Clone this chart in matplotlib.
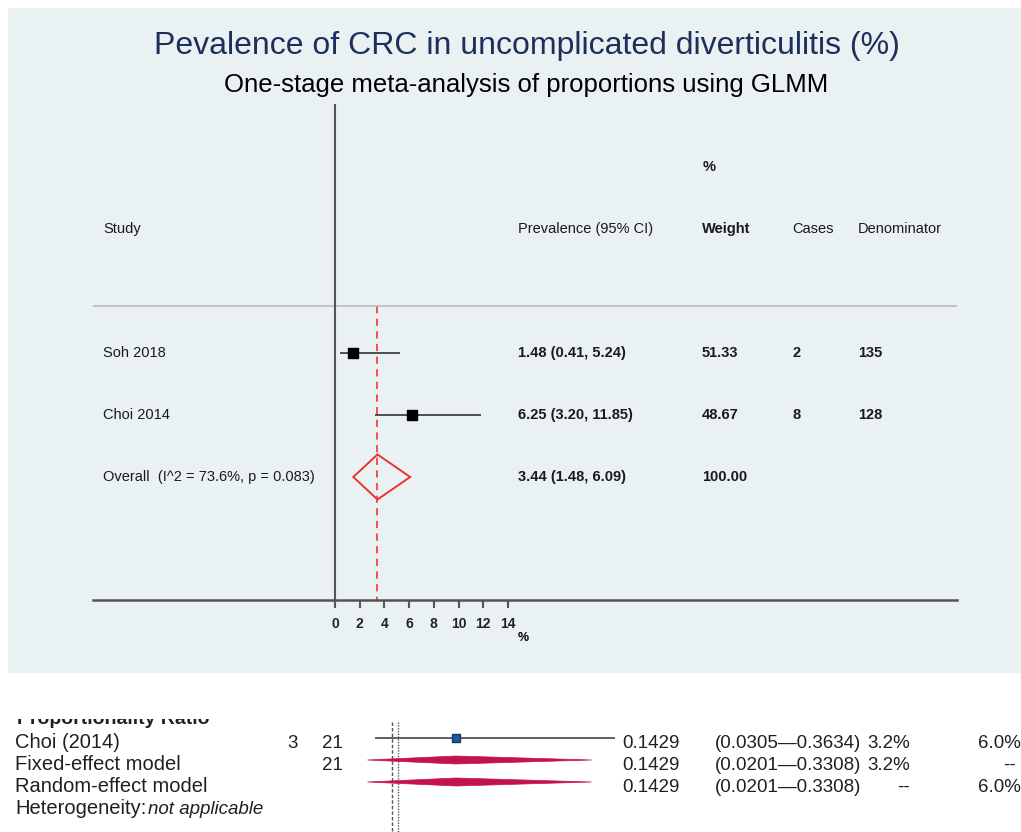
import matplotlib
matplotlib.use('Agg')
import matplotlib.pyplot as plt
from matplotlib.patches import Rectangle, Polygon
from matplotlib import font_manager
from matplotlib.transforms import blended_transform_factory

# ---------------- data (top panel) ----------------
title = 'Pevalence of CRC in uncomplicated diverticulitis (%)'
subtitle = 'One-stage meta-analysis of proportions using GLMM'
studies = ['Soh 2018', 'Choi 2014']
prev = [1.48, 6.25]
prev_lo = [0.41, 3.20]
prev_hi = [5.24, 11.85]
prev_text = ['1.48 (0.41, 5.24)', '6.25 (3.20, 11.85)']
weights = ['51.33', '48.67']
cases = ['2', '8']
denoms = ['135', '128']
overall_label = 'Overall  (I^2 = 73.6%, p = 0.083)'
overall = 3.44
overall_lo = 1.48
overall_hi = 6.09
overall_text = '3.44 (1.48, 6.09)'
overall_weight = '100.00'
xticks = [0, 2, 4, 6, 8, 10, 12, 14]

# ---------------- data (bottom panel) ----------------
b_header = 'Proportionality Ratio'
b_labels = ['Choi (2014)', 'Fixed-effect model', 'Random-effect model']
b_events = ['3', '', '']
b_total = ['21', '21', '']
b_est = [0.1429, 0.1429, 0.1429]
b_lo = [0.0305, 0.0201, 0.0201]
b_hi = [0.3634, 0.3308, 0.3308]
b_est_text = ['0.1429', '0.1429', '0.1429']
b_ci_text = ['(0.0305\u20140.3634)', '(0.0201\u20140.3308)', '(0.0201\u20140.3308)']
b_w_fixed = ['3.2%', '3.2%', '--']
b_w_random = ['6.0%', '--', '6.0%']
b_ref_lines = [0.0537, 0.0628]

W, H = 1021, 832
fig = plt.figure(figsize=(W / 100, H / 100), dpi=100)

avail = {f.name for f in font_manager.fontManager.ttflist}
sans = 'Liberation Sans' if 'Liberation Sans' in avail else 'DejaVu Sans'
narrow = 'Liberation Sans Narrow' if 'Liberation Sans Narrow' in avail else sans

# background panel
fig.patches.append(Rectangle((8 / W, 1 - 673 / H), (W - 8) / W, (673 - 8) / H,
                             transform=fig.transFigure, facecolor='#E9F1F3',
                             edgecolor='none', zorder=-5))

fig.text(527 / W, 1 - 46 / H, title, ha='center', va='center', fontsize=23,
         color='#1F2F5C', family=sans)
fig.text(526 / W, 1 - 85 / H, subtitle, ha='center', va='center', fontsize=18.5,
         color='black', family=sans)

# ---------------- top forest plot ----------------
px_per_unit = 12.35
row_px = 62.0
ax = fig.add_axes([93 / W, 1 - 600 / H, (957 - 93) / W, (600 - 105) / H])
ax.set_facecolor('none')
ax.set_xlim((93 - 335) / px_per_unit, (957 - 335) / px_per_unit)
ax.set_ylim(1 + (600 - 353) / row_px, 1 + (105 - 353) / row_px)
for s in ['top', 'right']:
    ax.spines[s].set_visible(False)
ax.spines['left'].set_position(('data', 0))
ax.spines['left'].set_color('#555555')
ax.spines['left'].set_linewidth(1.5)
ax.spines['bottom'].set_color('#555555')
ax.spines['bottom'].set_linewidth(1.8)
ax.set_yticks([])
ax.set_xticks(xticks)
ax.set_xticklabels([str(t) for t in xticks], fontsize=10, fontweight='bold',
                   family=sans, color='#222222')
ax.tick_params(axis='x', length=6, width=1.5, color='#555555', pad=6)

rows = [1, 2]
orow = 3
sep_row = 1 + (306 - 353) / row_px
ax.axhline(sep_row, color='#BBBBBB', lw=1.2)
ax.plot([overall, overall], [sep_row, ax.get_ylim()[0]], color='#F04545',
        lw=1.3, dashes=(4, 3), zorder=1)
ax.hlines(rows, prev_lo, prev_hi, color='#333333', lw=1.2, zorder=2)
ax.scatter(prev, rows, marker='s', s=55, color='black', zorder=3)
dh = 22.5 / row_px
ax.add_patch(Polygon([(overall_lo, orow), (overall, orow - dh), (overall_hi, orow),
                      (overall, orow + dh)], closed=True, fill=False,
                     edgecolor='#F03030', lw=1.4, zorder=3))
ax.text((518 - 335) / px_per_unit, 1 + (638 - 353) / row_px, '%', fontsize=9,
        fontweight='bold', family=sans, ha='left', va='center', clip_on=False)

tr = blended_transform_factory(fig.transFigure, ax.transData)
kw = dict(fontsize=10.5, family=sans, color='#1A1A1A', va='center', transform=tr)
cols = {'study': 103, 'prev': 518, 'w': 702, 'cases': 792, 'den': 858}
ax.text(703 / W, -2, '%', fontweight='bold', **kw)
ax.text(cols['study'] / W, -1, 'Study', **kw)
ax.text(cols['prev'] / W, -1, 'Prevalence (95% CI)', **kw)
ax.text(cols['w'] / W, -1, 'Weight', fontweight='bold', **kw)
ax.text(cols['cases'] / W, -1, 'Cases', **kw)
ax.text(cols['den'] / W, -1, 'Denominator', **kw)
for r, st, pt, w, c, d in zip(rows, studies, prev_text, weights, cases, denoms):
    ax.text(cols['study'] / W, r, st, **kw)
    ax.text(cols['prev'] / W, r, pt, fontweight='bold', **kw)
    ax.text(cols['w'] / W, r, w, fontweight='bold', **kw)
    ax.text(cols['cases'] / W, r, c, fontweight='bold', **kw)
    ax.text(cols['den'] / W, r, d, fontweight='bold', **kw)
ax.text(cols['study'] / W, orow, overall_label, **kw)
ax.text(cols['prev'] / W, orow, overall_text, fontweight='bold', **kw)
ax.text(cols['w'] / W, orow, overall_weight, fontweight='bold', **kw)

# ---------------- bottom forest plot ----------------
bpx = 721.0
brow = 22.0
bx = fig.add_axes([0, 0, 1, (832 - 700) / H])
bx.set_facecolor('none')
bx.set_axis_off()
bx.set_xlim(-353 / bpx, (W - 353) / bpx)
bx.set_ylim(1 + (832 - 738) / brow, 1 + (700 - 738) / brow)

btr = blended_transform_factory(fig.transFigure, bx.transData)
base = 9.5 / brow  # baseline sits below the row centre
bkw = dict(fontsize=13.5, family=narrow, color='#231F20', va='baseline', transform=btr)
lkw = dict(bkw, fontsize=14.5)
# header row, mostly cut off by the crop of the source image
bx.text(17 / W, 1 + (724 - 738) / brow, b_header, fontweight='bold', va='baseline',
        fontsize=14, family=narrow, color='#231F20', transform=btr)
# the crop edge of the source picture
fig.patches.append(Rectangle((0, 1 - 718.5 / H), 1, (718.5 - 674) / H,
                             transform=fig.transFigure, facecolor='white',
                             edgecolor='none', zorder=10))
brows = [1, 2, 3]
for r, lab, ev, tot, et, ct, wf, wr in zip(brows, b_labels, b_events, b_total,
                                          b_est_text, b_ci_text, b_w_fixed, b_w_random):
    bx.text(15 / W, r + base, lab, ha='left', **lkw)
    bx.text(298 / W, r + base, ev, ha='right', **bkw)
    bx.text(343 / W, r + base, tot, ha='right', **bkw)
    bx.text(622 / W, r + base, et, ha='left', **bkw)
    bx.text(715 / W, r + base, ct, ha='left', **bkw)
    bx.text(910 / W, r + base, wf, ha='right', **bkw)
    bx.text(1003 / W if wr == '--' else 978 / W, r + base, wr, ha='left', **bkw)
het = bx.text(15 / W, 4 + base, 'Heterogeneity:', ha='left', **lkw)
renderer = fig.canvas.get_renderer()
ext = het.get_window_extent(renderer)
bx.text((ext.x1 + 2) / W, 4 + base, 'not applicable', ha='left', style='italic',
        **dict(lkw, fontsize=13.5))

ytop = 1 + (722 - 738) / brow
ybot = bx.get_ylim()[0]
bx.vlines(b_ref_lines[0], ytop, ybot, color='#555555', lw=1.0, linestyles=(0, (2.5, 1.5)))
bx.vlines(b_ref_lines[1], ytop, ybot, color='#555555', lw=1.0, linestyles=(0, (1, 1)))

bx.hlines(brows[0], b_lo[0], b_hi[0], color='#444444', lw=1.2, zorder=2)
bx.scatter([b_est[0]], [brows[0]], marker='s', s=38, color='#1F5A96',
           edgecolor='#0E3A66', zorder=3)
bdh = 4.0 / brow
for r, e, lo, hi in zip(brows[1:], b_est[1:], b_lo[1:], b_hi[1:]):
    bx.add_patch(Polygon([(lo, r), (e, r - bdh), (hi, r), (e, r + bdh)], closed=True,
                         facecolor='#C4124F', edgecolor='#C4124F', lw=0.5, zorder=3))

fig.savefig('out.png', dpi=100)
